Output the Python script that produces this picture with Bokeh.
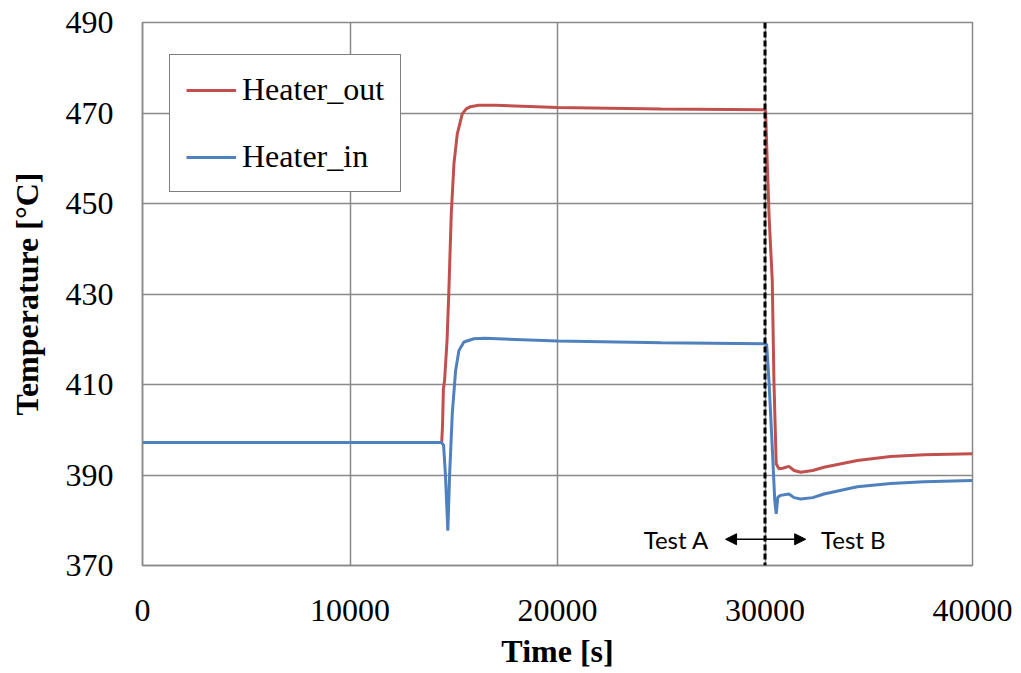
from bokeh.plotting import figure
from bokeh.models import (Range1d, FixedTicker, Legend, LegendItem, Span, Arrow,
                          NormalHead, Label)
from bokeh.embed import file_html
from bokeh.resources import INLINE

# ---- data ----
time_out = [0, 14300, 14420, 14460, 14500, 14560, 14680, 14760, 14880, 15010, 15170,
            15410, 15600, 15810, 16200, 17000, 20000, 25000, 30000, 30030, 30110,
            30200, 30270, 30350, 30430, 30540, 30670, 30850, 31150, 31400, 31720,
            32300, 32840, 34450, 36050, 37660, 40000]
heater_out = [397.2, 397.2, 397.2, 401.0, 409.0, 411.0, 420.0, 430.0, 447.7, 458.8, 465.4,
              469.8, 470.9, 471.4, 471.7, 471.7, 471.2, 470.9, 470.7, 470.4, 458.8,
              447.0, 440.3, 433.0, 410.9, 392.5, 391.4, 391.5, 391.9, 391.0, 390.6,
              391.0, 391.7, 393.2, 394.1, 394.5, 394.7]

time_in = [0, 14400, 14510, 14600, 14715, 14800, 14930, 15090, 15250, 15490, 15970,
           16500, 20000, 25000, 30000, 30080, 30190, 30350, 30470, 30540, 30620,
           30750, 31150, 31400, 31720, 32300, 32840, 34450, 36050, 37660, 40000]
heater_in = [397.2, 397.2, 396.6, 390.0, 377.7, 390.0, 403.6, 413.1, 417.5, 419.4, 420.1,
             420.2, 419.6, 419.2, 419.0, 418.8, 410.9, 396.1, 384.4, 381.4, 385.1,
             385.5, 385.8, 385.0, 384.7, 385.0, 385.8, 387.4, 388.1, 388.5, 388.8]

x_ticks = [0, 10000, 20000, 30000, 40000]
y_ticks = [370, 390, 410, 430, 450, 470, 490]
test_split = 30000
arrow_y = 375.8
arrow_a_end = 28100
arrow_b_end = 31960
label_a_x = 27300
label_b_x = 32700

RED = "#C0504D"
BLUE = "#4F81BD"
GRID = "#898989"
SERIF = "Liberation Serif"

p = figure(width=1013, height=673, output_backend="svg", toolbar_location=None,
           x_range=Range1d(0, 40000), y_range=Range1d(370, 490),
           min_border_left=142, min_border_top=22, min_border_right=41,
           min_border_bottom=108)

p.background_fill_color = "white"
p.border_fill_color = "white"
p.outline_line_color = GRID
p.outline_line_width = 1.5

for ax in (p.xaxis[0], p.yaxis[0]):
    ax.major_tick_out = 0
    ax.major_tick_in = 0
    ax.minor_tick_out = 0
    ax.minor_tick_in = 0
    ax.axis_line_color = GRID
    ax.axis_line_width = 1.5
    ax.major_label_text_font = SERIF
    ax.major_label_text_font_size = "32px"
    ax.major_label_text_color = "black"
    ax.axis_label_text_font = SERIF
    ax.axis_label_text_font_size = "32px"
    ax.axis_label_text_font_style = "bold"
    ax.axis_label_text_color = "black"

p.xaxis.ticker = FixedTicker(ticks=x_ticks)
p.yaxis.ticker = FixedTicker(ticks=y_ticks)
p.xaxis.axis_label = "Time [s]"
p.yaxis.axis_label = "Temperature [°C]"
p.xaxis.major_label_standoff = 34
p.xaxis.axis_label_standoff = 9
p.yaxis.major_label_standoff = 29
p.yaxis.axis_label_standoff = 18

p.xgrid.grid_line_color = GRID
p.ygrid.grid_line_color = GRID
p.xgrid.grid_line_width = 1.5
p.ygrid.grid_line_width = 1.5

r_out = p.line(time_out, heater_out, line_color=RED, line_width=3)
r_in = p.line(time_in, heater_in, line_color=BLUE, line_width=3)

p.add_layout(Span(location=test_split, dimension="height", line_color="black",
                  line_width=3, line_dash="6 3"))

p.add_layout(Arrow(end=NormalHead(size=11, fill_color="black", line_color="black"),
                   x_start=test_split, y_start=arrow_y, x_end=arrow_a_end, y_end=arrow_y,
                   line_color="black", line_width=1.5))
p.add_layout(Arrow(end=NormalHead(size=11, fill_color="black", line_color="black"),
                   x_start=test_split, y_start=arrow_y, x_end=arrow_b_end, y_end=arrow_y,
                   line_color="black", line_width=1.5))

p.add_layout(Label(x=label_a_x, y=arrow_y, text="Test A", text_align="right",
                   text_baseline="middle", text_font="Lato", text_font_size="24px",
                   text_color="black"))
p.add_layout(Label(x=label_b_x, y=arrow_y, text="Test B", text_align="left",
                   text_baseline="middle", text_font="Lato", text_font_size="24px",
                   text_color="black"))

legend = Legend(items=[LegendItem(label="Heater_out", renderers=[r_out]),
                       LegendItem(label="Heater_in", renderers=[r_in])],
                location=(27, 373))
legend.label_text_font = SERIF
legend.label_text_font_size = "32px"
legend.label_text_color = "black"
legend.glyph_width = 50
legend.glyph_height = 30
legend.label_height = 30
legend.label_standoff = 6
legend.spacing = 30
legend.padding = 16
legend.margin = 0
legend.border_line_color = "black"
legend.border_line_width = 1.5
legend.background_fill_color = "white"
legend.background_fill_alpha = 1.0
p.add_layout(legend)

open("out.html", "w").write(file_html(p, INLINE))
